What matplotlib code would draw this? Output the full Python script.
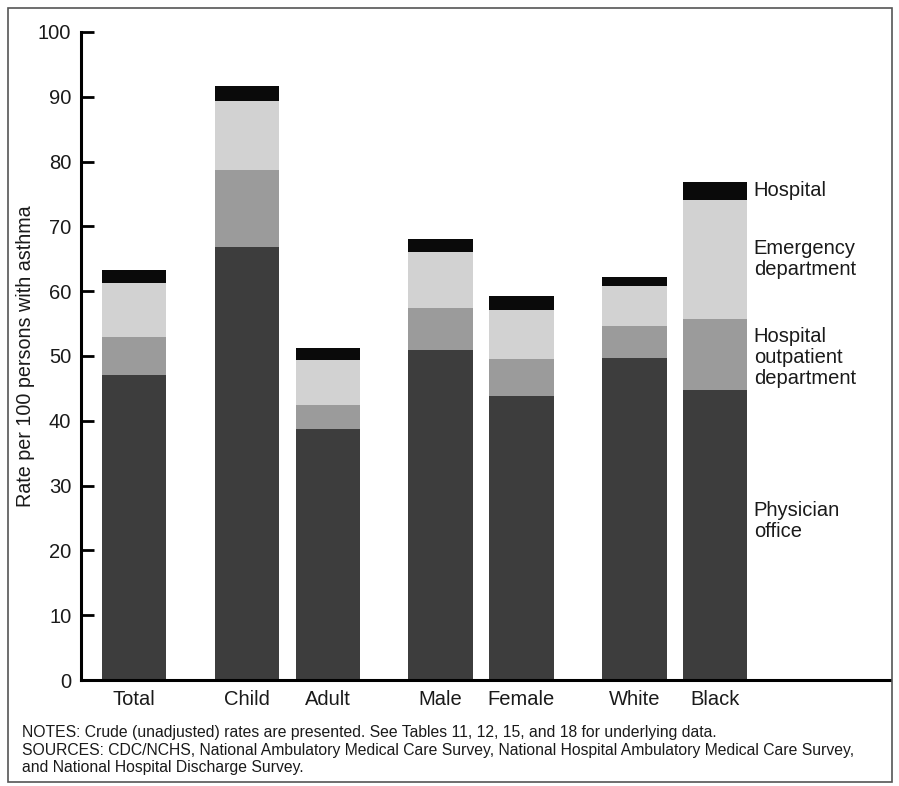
import numpy as np
import matplotlib.pyplot as plt
from matplotlib.patches import Rectangle

plt.rcParams['font.family'] = ['Liberation Sans', 'DejaVu Sans']

categories = ['Total', 'Child', 'Adult', 'Male', 'Female', 'White', 'Black']
physician = [47.1, 66.8, 38.8, 51.0, 43.9, 49.7, 44.7]
outpatient = [5.9, 11.9, 3.6, 6.4, 5.6, 5.0, 11.0]
emergency = [8.2, 10.6, 7.0, 8.6, 7.6, 6.1, 18.3]
hospital = [2.1, 2.3, 1.9, 2.0, 2.1, 1.4, 2.9]

series = [
    ('Physician\noffice', physician, '#3d3d3d'),
    ('Hospital\noutpatient\ndepartment', outpatient, '#9b9b9b'),
    ('Emergency\ndepartment', emergency, '#d2d2d2'),
    ('Hospital', hospital, '#0a0a0a'),
]
label_y = [24.5, 49.8, 65.0, 75.5]

# pairs of bars with wider gaps between groups
x = np.array([0, 1.4, 2.4, 3.8, 4.8, 6.2, 7.2])

fig = plt.figure(figsize=(8.99, 7.86), dpi=100)
ax = fig.add_axes([81 / 899, 106 / 786, (890 - 81) / 899, (680 - 32) / 786])

bottom = np.zeros(len(categories))
for label, vals, color in series:
    ax.bar(x, vals, width=0.8, bottom=bottom, color=color, edgecolor='none')
    bottom += np.array(vals)

# labels beside the last bar
for (label, vals, color), ly in zip(series, label_y):
    ax.text(x[-1] + 0.48, ly, label, fontsize=14.5, color='#1a1a1a',
            va='center', ha='left', linespacing=1.12)

ax.set_xlim(-0.66, 9.37)
ax.set_ylim(0, 100)
ax.set_yticks(range(0, 101, 10))
ax.set_xticks(x)
ax.set_xticklabels(categories, fontsize=14.5, color='#1a1a1a')
ax.tick_params(axis='x', length=0, pad=7)
ax.tick_params(axis='y', direction='in', length=9, width=2, labelsize=14.5,
               labelcolor='#1a1a1a', pad=7)
for s in ['top', 'right']:
    ax.spines[s].set_visible(False)
ax.spines['left'].set_linewidth(2.2)
ax.spines['bottom'].set_linewidth(2.2)
ax.set_ylabel('Rate per 100 persons with asthma', fontsize=14.2, color='#1a1a1a')
ax.yaxis.set_label_coords(-46 / 809, 0.5)

fig.text(22 / 899, 1 - 750 / 786,
         'NOTES: Crude (unadjusted) rates are presented. See Tables 11, 12, 15, and 18 for underlying data.\n'
         'SOURCES: CDC/NCHS, National Ambulatory Medical Care Survey, National Hospital Ambulatory Medical Care Survey,\n'
         'and National Hospital Discharge Survey.',
         fontsize=11.3, color='#1a1a1a', va='center', ha='left', linespacing=1.2)

fig.patches.append(Rectangle((8 / 899, 4 / 786), 884 / 899, 774 / 786,
                             transform=fig.transFigure, fill=False,
                             edgecolor='#555555', linewidth=1.2))

fig.savefig('out.png', dpi=100, facecolor='white')
